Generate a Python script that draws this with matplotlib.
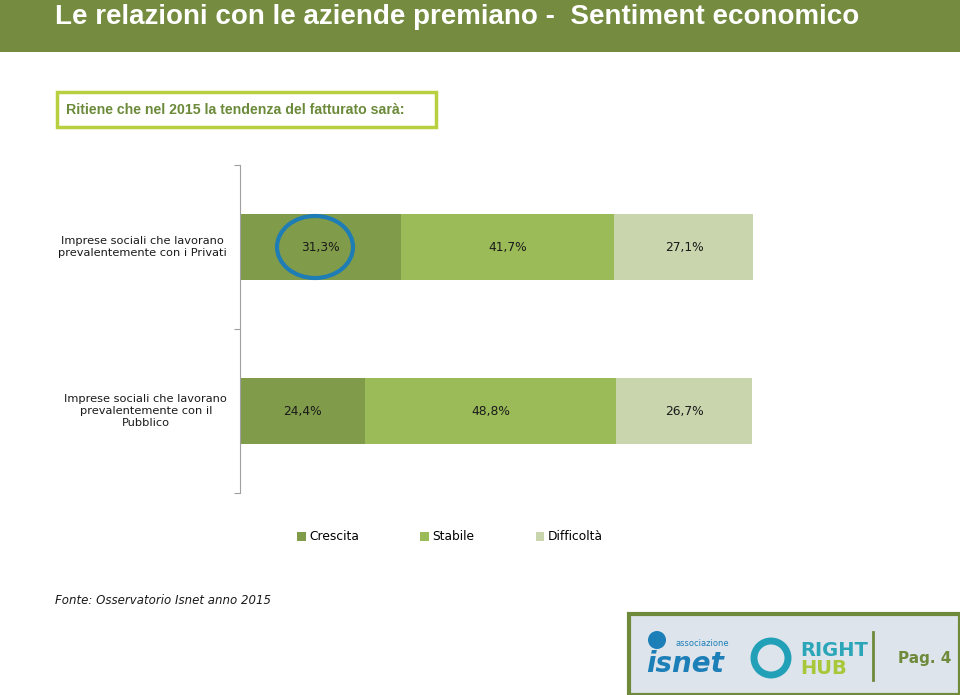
import matplotlib.pyplot as plt
from matplotlib.patches import Rectangle, Ellipse

categories = ['Imprese sociali che lavorano\nprevalentemente con i Privati',
              'Imprese sociali che lavorano\nprevalentemente con il\nPubblico']
series = ['Crescita', 'Stabile', 'Difficoltà']
crescita = [31.3, 24.4]
stabile = [41.7, 48.8]
difficolta = [27.1, 26.7]
colors = ['#809b4a', '#9bbb59', '#c8d5ad']

W, H = 960, 695
fig = plt.figure(figsize=(W / 100, H / 100), dpi=100)


def fx(x):
    return x / W


def fy(y):
    return 1 - y / H


# header band
fig.patches.append(Rectangle((0, fy(52)), 1, 52 / H, transform=fig.transFigure,
                             facecolor='#758c40', edgecolor='none'))
fig.text(fx(55), fy(17), 'Le relazioni con le aziende premiano -  Sentiment economico',
         color='white', fontsize=20, fontweight='bold', va='center',
         family='Liberation Sans')

# question box
fig.patches.append(Rectangle((fx(57), fy(127)), fx(436 - 57), 35 / H, transform=fig.transFigure,
                             facecolor='white', edgecolor='#b8d040', linewidth=2.5))
fig.text(fx(66), fy(110), 'Ritiene che nel 2015 la tendenza del fatturato sarà:',
         color='#6b8a3a', fontsize=10.2, fontweight='bold', va='center',
         family='Liberation Sans')

# chart
ax = fig.add_axes([fx(240), fy(493), fx(753 - 240), (493 - 165) / H])
ypos = [1, 0]
left = [0, 0]
for name, vals, c in zip(series, [crescita, stabile, difficolta], colors):
    ax.barh(ypos, vals, left=left, height=0.4, color=c, label=name)
    for y, v, l in zip(ypos, vals, left):
        ax.text(l + v / 2, y, f'{v:.1f}%'.replace('.', ','), ha='center', va='center',
                fontsize=8.8, color='#1a1a1a')
    left = [l + v for l, v in zip(left, vals)]

ax.set_xlim(0, 100)
ax.set_ylim(-0.5, 1.5)
ax.set_xticks([])
ax.set_yticks([-0.5, 0.5, 1.5])
ax.set_yticklabels([])
ax.tick_params(axis='y', length=4, color='#a0a0a0', direction='out')
for s in ['top', 'right', 'bottom']:
    ax.spines[s].set_visible(False)
ax.spines['left'].set_color('#a0a0a0')
for y, lab in zip(ypos, categories):
    ax.text(-0.025, y, lab, transform=ax.get_yaxis_transform(), ha='right', va='center',
            multialignment='center', fontsize=8.2, color='#1a1a1a', clip_on=False)

# highlight circle
ax.add_patch(Ellipse((fx(315), fy(247)), 76 / W, 62 / H, transform=fig.transFigure,
                     fill=False, edgecolor='#1f7db5', linewidth=3, clip_on=False))

# legend
leg = fig.legend(loc='center', bbox_to_anchor=(fx(450), fy(537)), ncol=3, frameon=False,
                 fontsize=8.8, handlelength=0.7, handleheight=0.7, handletextpad=0.3,
                 columnspacing=5.0)

fig.text(fx(55), fy(601), 'Fonte: Osservatorio Isnet anno 2015', fontsize=8.5,
         style='italic', va='center', color='#1a1a1a')

# footer logo box
fig.patches.append(Rectangle((fx(629), 0), fx(331), 81 / H, transform=fig.transFigure,
                             facecolor='#dde4ec', edgecolor='#6f8a3a', linewidth=3))
fig.text(fx(676), fy(644), 'associazione', fontsize=6, color='#1d7fb8', va='center')
fig.text(fx(646), fy(664), 'isnet', fontsize=20, color='#1d7fb8', fontweight='bold',
         style='italic', va='center')
fig.patches.append(Ellipse((fx(657), fy(640)), 18 / W, 18 / H, transform=fig.transFigure,
                           facecolor='#1d7fb8', edgecolor='none'))
fig.patches.append(Ellipse((fx(771), fy(658)), 34 / W, 34 / H, transform=fig.transFigure,
                           facecolor='none', edgecolor='#22a0b8', linewidth=5))
fig.text(fx(800), fy(650), 'RIGHT', fontsize=14, color='#2aa6b8', fontweight='bold', va='center')
fig.text(fx(800), fy(668), 'HUB', fontsize=14, color='#a8c83a', fontweight='bold', va='center')
fig.add_artist(plt.Line2D([fx(873), fx(873)], [fy(632), fy(680)], transform=fig.transFigure,
                          color='#6f8a3a', linewidth=2))
fig.text(fx(898), fy(658), 'Pag. 4', fontsize=11, color='#6f8a3a', fontweight='bold', va='center')

fig.savefig('out.png', dpi=100)
